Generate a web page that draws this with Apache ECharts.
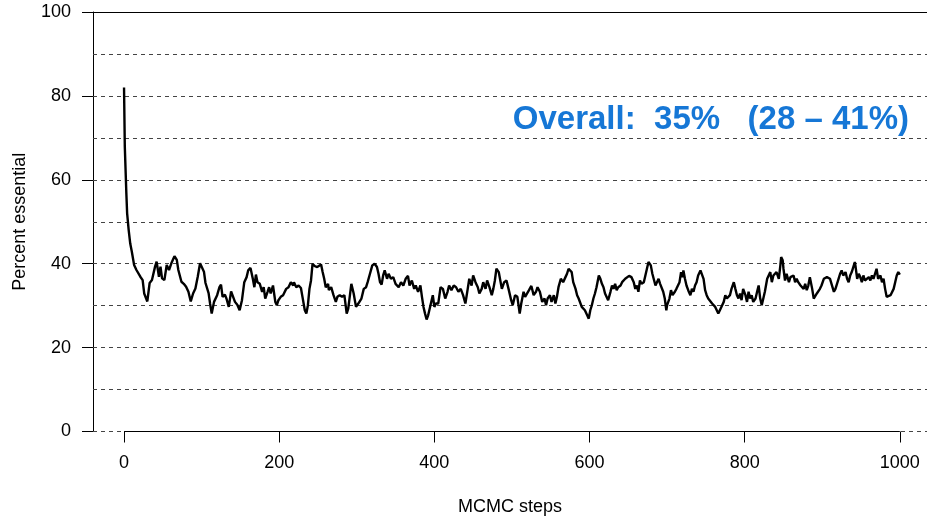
<!DOCTYPE html>
<html><head><meta charset="utf-8">
<script src="https://cdn.jsdelivr.net/npm/echarts@6/dist/echarts.min.js"></script>
<style>html,body{margin:0;padding:0;background:#fff}#c{width:927px;height:517px}</style>
</head><body><div id="c"></div>
<script>
const steps = [0,1,3,4,6,8,10,13,16,21,24,26,28,30,33,36,38,40,42,43,45,47,49,52,55,58,61,65,68,70,74,77,80,83,86,89,92,95,98,100,103,105,109,
111,113,116,120,123,125,127,130,132,135,138,140,143,146,149,152,155,158,160,163,166,168,170,172,175,178,180,182,185,187,189,192,195,197,199,202,205,209,212,215,218,219,222,225,228,230,233,235,237,239,241,243,246,249,
251,254,256,258,260,263,264,267,270,273,275,278,281,284,287,289,293,296,299,302,306,309,312,314,317,320,323,326,328,330,332,334,336,339,341,344,347,350,354,357,360,363,366,368,371,374,376,379,
382,384,386,388,390,392,395,398,400,402,405,408,411,414,417,419,422,425,428,431,434,437,440,443,445,448,450,453,456,458,461,463,466,468,471,474,476,478,480,483,485,487,490,493,496,499,501,504,507,510,512,515,
517,519,522,525,528,531,533,536,539,542,544,546,549,551,554,556,558,560,562,563,566,569,571,573,575,577,579,582,584,586,588,590,592,594,597,599,601,603,605,607,609,612,614,616,618,620,622,624,627,629,631,633,635,637,640,642,644,646,648,651,
654,657,659,661,663,665,667,670,672,674,676,677,679,681,682,685,687,689,691,693,695,697,699,700,703,705,707,710,712,714,716,718,720,721,723,725,728,730,732,734,736,738,740,743,745,747,749,751,753,755,758,760,762,764,766,768,771,773,775,777,779,781,783,786,
788,790,792,794,796,798,801,803,805,807,809,811,814,816,818,820,822,824,826,829,831,833,835,837,839,841,844,846,847,849,850,852,854,857,859,861,863,865,867,869,872,874,876,878,880,882,884,887,889,891,893,895,897,899,902,904,906,908,910,912,915,
917,919,921,923,925,927,930,932,934,936,938,940,942,943,945,947,949,951,953,955,957,960,962,964,966,968,970,972,975,977,979,981,983,985,988,990,992,994,996,998,1000];
const pct = [82.0,67.9,56.7,52.0,48.0,44.8,42.9,39.7,38.5,36.9,36.1,32.9,32.5,31.0,35.4,36.1,36.1,39.3,40.5,40.1,36.9,39.3,36.5,36.1,39.7,38.5,40.1,41.8,40.9,38.5,35.7,35.2,34.5,33.3,31.0,32.9,34.1,36.9,40.1,40.0,38.1,35.4,33.0,
30.4,28.1,30.9,32.5,34.4,35.0,32.1,32.6,31.7,29.7,33.4,33.7,30.9,30.2,28.9,31.3,35.6,36.8,38.4,39.0,36.4,34.4,37.4,35.6,35.2,33.3,34.4,31.7,33.3,34.4,32.9,34.8,30.9,30.1,31.3,32.1,32.5,34.0,34.4,35.6,34.8,35.6,34.4,34.8,34.2,32.1,28.9,28.1,30.1,34.0,36.0,40.0,39.4,39.2,
39.6,39.8,38.0,36.4,34.4,35.2,33.7,34.4,32.5,30.9,32.1,32.5,32.1,32.5,28.1,29.3,35.2,32.9,29.7,30.5,31.7,34.0,34.4,35.6,37.6,39.6,40.0,39.2,37.6,35.6,35.0,37.2,38.4,36.4,37.6,36.4,36.8,35.2,34.4,35.6,34.8,36.4,37.1,34.8,36.0,34.0,34.8,33.3,
34.8,32.1,29.7,28.1,26.7,27.7,30.1,32.5,29.7,30.5,30.5,34.4,34.0,31.7,33.3,34.8,33.7,34.8,34.4,33.3,34.0,32.5,30.5,34.0,36.4,34.8,37.2,35.6,34.4,32.9,34.0,35.6,34.0,36.0,34.4,32.5,34.0,36.0,38.8,38.0,36.0,34.0,35.6,36.0,33.7,31.3,30.1,32.5,32.1,28.1,30.5,33.3,
32.1,32.1,33.7,34.7,32.5,33.3,34.4,33.3,30.9,31.7,30.1,31.7,32.5,30.9,32.5,30.5,32.1,34.4,34.8,36.4,35.6,36.8,37.6,38.8,39.2,38.0,35.6,34.0,32.5,31.7,31.3,29.7,29.3,28.9,27.7,26.9,28.9,30.1,31.7,32.9,34.4,37.2,36.4,35.2,34.4,32.9,32.5,31.3,33.3,34.8,34.0,35.2,33.7,34.4,34.8,35.6,35.2,36.4,36.4,37.1,
36.8,35.6,34.0,34.8,33.3,36.0,35.2,35.6,37.2,38.8,40.4,40.6,39.6,37.6,37.2,34.8,34.4,36.4,35.2,35.6,33.3,31.7,28.9,30.1,31.7,33.7,32.5,33.3,34.0,34.8,35.6,38.0,36.8,38.4,36.4,34.8,33.3,32.5,34.0,33.3,34.8,35.6,37.2,38.4,38.8,36.4,33.7,32.5,31.7,31.3,30.5,30.9,29.7,30.1,28.1,28.9,30.1,30.9,32.5,31.7,32.1,32.5,34.0,35.6,
34.0,32.5,31.7,32.9,31.3,34.0,32.5,30.9,33.3,31.7,32.5,30.9,31.7,33.3,34.8,31.7,30.1,30.1,33.3,36.4,36.8,38.0,35.6,37.2,36.8,38.0,36.4,39.6,41.6,40.8,38.8,36.0,37.6,35.6,36.8,36.4,37.2,35.6,36.4,35.6,34.8,35.2,34.0,35.2,33.7,34.8,36.8,34.0,31.7,32.1,32.9,32.5,34.0,34.8,36.4,36.4,36.8,37.2,36.4,36.8,33.3,
34.0,34.4,36.4,37.6,38.4,37.2,38.0,36.4,35.6,37.2,38.0,39.2,40.4,39.2,36.4,37.6,36.8,35.6,37.2,36.0,36.4,36.8,36.0,37.2,36.4,37.6,38.8,36.4,37.2,35.6,36.4,34.0,32.1,31.7,32.5,32.1,34.0,35.6,37.2,38.0,37.4];
const xTicks = [0,200,400,600,800,1000];
const yTicks = [0,20,40,60,80,100];
const yGrid = [0,10,20,30,40,50,60,70,80,90];
const xName = 'MCMC steps';
const yName = 'Percent essential';
const noteText = 'Overall:  35%   (28 \u2013 41%)';

const series = steps.map((s, i) => [s, pct[i]]);
const font = 'Liberation Sans, Arial, sans-serif';
const chart = echarts.init(document.getElementById('c'), null, {renderer: 'canvas'});
chart.setOption({
  animation: false,
  backgroundColor: '#fff',
  grid: {left: 93, right: 0, top: 12, bottom: 85.5, containLabel: false, outerBoundsMode: 'none'},
  xAxis: {
    type: 'value', min: -40, max: 1035,
    axisLine: {show: false, onZero: false},
    axisTick: {show: true, customValues: xTicks, length: 11, lineStyle: {color: '#000', width: 1}},
    axisLabel: {customValues: xTicks, margin: 23, fontSize: 18, color: '#000', fontFamily: font,
      formatter: v => String(v)},
    splitLine: {show: false},
    name: xName, nameLocation: 'middle', nameGap: 67,
    nameTextStyle: {fontSize: 18, color: '#000', fontFamily: font}
  },
  yAxis: {
    type: 'value', min: 0, max: 100,
    axisLine: {show: true, onZero: false, lineStyle: {color: '#000', width: 1}},
    axisTick: {show: true, customValues: yTicks, length: 11, lineStyle: {color: '#000', width: 1}},
    axisLabel: {customValues: yTicks, margin: 22, fontSize: 18, color: '#000', fontFamily: font,
      formatter: v => String(v)},
    splitLine: {show: false},
    name: yName, nameLocation: 'middle', nameGap: 64, nameRotate: 90,
    nameTextStyle: {fontSize: 18, color: '#000', fontFamily: font}
  },
  graphic: [{
    type: 'text', right: 18, top: 103,
    style: {text: noteText, fill: '#1677d6', font: 'bold 33px ' + font}
  }],
  series: [{
    type: 'line', data: [], z: 1, silent: true,
    markLine: {
      silent: true, symbol: 'none', label: {show: false},
      lineStyle: {color: '#444', width: 1, type: [4, 4]},
      data: yGrid.map(v => ({yAxis: v}))
    }
  }, {
    type: 'line', data: series, showSymbol: false, symbol: 'none',
    lineStyle: {color: '#000', width: 2.4}, z: 5,
    markLine: {
      silent: true, symbol: 'none', label: {show: false},
      lineStyle: {color: '#000', width: 1, type: 'solid'},
      data: [
        [{coord: [xTicks[0], 0]}, {coord: [xTicks[xTicks.length - 1], 0]}],
        {yAxis: yTicks[yTicks.length - 1]}
      ]
    }
  }]
});
</script></body></html>
